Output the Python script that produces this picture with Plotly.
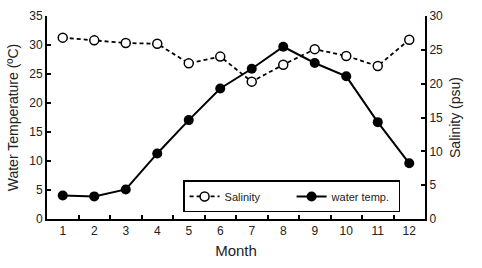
import plotly.graph_objects as go

months = [str(m) for m in range(1, 13)]
salinity = [26.8, 26.4, 26.0, 25.9, 23.0, 24.0, 20.3, 22.8, 25.1, 24.1, 22.6, 26.5]
water_temp = [4.05, 3.9, 5.1, 11.3, 17.05, 22.5, 25.9, 29.7, 26.9, 24.6, 16.7, 9.6]

FONT = "Liberation Sans, Arial, sans-serif"

fig = go.Figure()
fig.add_trace(go.Scatter(
    x=months, y=salinity, name="Salinity", yaxis="y2",
    mode="lines+markers",
    line=dict(color="black", width=1.8, dash="4px,3px"),
    marker=dict(symbol="circle", size=9, color="white", line=dict(color="black", width=1.5)),
))
fig.add_trace(go.Scatter(
    x=months, y=water_temp, name="water temp.", yaxis="y",
    mode="lines+markers",
    line=dict(color="black", width=2),
    marker=dict(symbol="circle", size=10, color="black"),
))

fig.update_layout(
    width=482, height=268,
    margin=dict(l=47, r=57, t=9, b=49),
    paper_bgcolor="white", plot_bgcolor="white",
    font=dict(family=FONT, color="#222", size=12),
    showlegend=True,
    legend=dict(
        orientation="h", x=0.36, y=0.19, xanchor="left", yanchor="top",
        bordercolor="black", borderwidth=1.5, bgcolor="white",
        font=dict(size=11, color="#222"),
        traceorder="normal", entrywidth=62,
    ),
    xaxis=dict(
        type="category", categoryorder="array", categoryarray=months,
        range=[-0.5, 11.5],
        showline=True, linecolor="black", linewidth=2,
        ticks="inside", tickson="boundaries", ticklen=4, tickcolor="black", tickwidth=1.5,
        showgrid=False, zeroline=False,
        tickfont=dict(size=12),
        title=dict(text="Month", font=dict(size=15), standoff=8),
    ),
    yaxis=dict(
        range=[0, 35], tickvals=[0, 5, 10, 15, 20, 25, 30, 35],
        showline=True, linecolor="black", linewidth=2,
        ticks="inside", ticklen=4, tickcolor="black", tickwidth=1.5,
        showgrid=False, zeroline=False,
        tickfont=dict(size=12),
        title=dict(text="Water Temperature (ºC)", font=dict(size=14), standoff=7),
    ),
    yaxis2=dict(
        range=[0, 30], tickvals=[0, 5, 10, 15, 20, 25, 30],
        overlaying="y", side="right",
        showline=True, linecolor="black", linewidth=2,
        ticks="inside", ticklen=4, tickcolor="black", tickwidth=1.5,
        showgrid=False, zeroline=False,
        tickfont=dict(size=12),
        title=dict(text="Salinity (psu)", font=dict(size=14), standoff=8),
    ),
)

fig.write_html("out.html")
